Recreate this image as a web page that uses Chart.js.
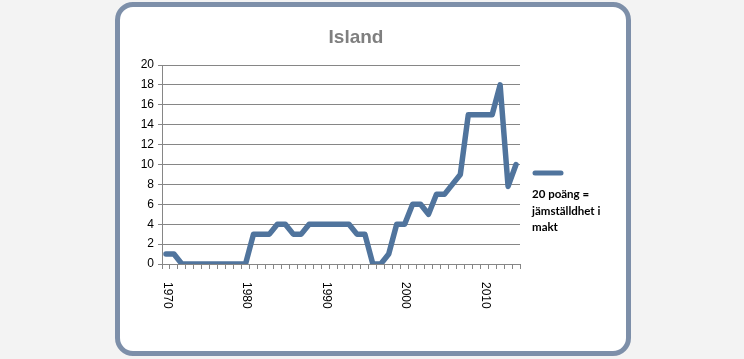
<!DOCTYPE html>
<html><head><meta charset="utf-8">
<script src="https://cdn.jsdelivr.net/npm/chart.js@4.4.1/dist/chart.umd.min.js"></script>
<style>
html,body{margin:0;padding:0;background:#f3f3f3;width:744px;height:359px;overflow:hidden}
#frame{position:absolute;left:115px;top:2px;width:506px;height:344px;border:5px solid #7d8fa9;border-radius:18px;background:#fff}
#wrap{position:absolute;left:0;top:0;width:744px;height:359px}
</style></head><body>
<div id="frame"></div>
<div id="wrap"><canvas id="c" width="744" height="359"></canvas></div>
<script>
const chartTitle = 'Island';
const years = ['1970','1971','1972','1973','1974','1975','1976','1977','1978','1979',
               '1980','1981','1982','1983','1984','1985','1986','1987','1988','1989',
               '1990','1991','1992','1993','1994','1995','1996','1997','1998','1999',
               '2000','2001','2002','2003','2004','2005','2006','2007','2008','2009',
               '2010','2011','2012','2013','2014'];
const values = [1,1,0,0,0,0,0,0,0,0,
                0,3,3,3,4,4,3,3,4,4,
                4,4,4,4,3,3,0,0,1,4,
                4,6,6,5,7,7,8,9,15,15,
                15,15,18,7.8,10];
const shownYearLabels = ['1970','1980','1990','2000','2010'];
const yMin = 0, yMax = 20, yStep = 2;
const noteLines = ['20 poäng =', 'jämställdhet i', 'makt'];

const lineColor = '#50749d';
const gridColor = '#868686';

const deco = {
  id: 'deco',
  afterDraw(chart) {
    const ctx = chart.ctx;
    const xs = chart.scales.x;
    const area = chart.chartArea;
    ctx.save();
    // title
    ctx.font = 'bold 19px "Liberation Sans", Arial, sans-serif';
    ctx.fillStyle = '#7f7f7f';
    ctx.textAlign = 'center';
    ctx.textBaseline = 'alphabetic';
    ctx.fillText(chartTitle, 356, 43);
    // x labels rotated clockwise
    ctx.font = '12px "Liberation Sans", Arial, sans-serif';
    ctx.fillStyle = '#000';
    ctx.textAlign = 'left';
    ctx.textBaseline = 'middle';
    shownYearLabels.forEach(y => {
      const i = years.indexOf(y);
      const px = xs.getPixelForValue(i);
      ctx.save();
      ctx.translate(px + 1, area.bottom + 18);
      ctx.rotate(Math.PI / 2);
      ctx.fillText(y, 0, 0);
      ctx.restore();
    });
    // legend sample
    ctx.strokeStyle = lineColor;
    ctx.lineWidth = 5;
    ctx.lineCap = 'round';
    ctx.beginPath();
    ctx.moveTo(535, 173);
    ctx.lineTo(561, 173);
    ctx.stroke();
    // note
    ctx.font = 'bold 11.5px Lato, "Open Sans", sans-serif';
    ctx.fillStyle = '#000';
    ctx.textAlign = 'left';
    ctx.textBaseline = 'alphabetic';
    noteLines.forEach((t, k) => ctx.fillText(t, 532, 198 + k * 16.5));
    ctx.restore();
  }
};

new Chart(document.getElementById('c'), {
  type: 'line',
  data: {
    labels: years,
    datasets: [{
      label: '',
      data: values,
      borderColor: lineColor,
      borderWidth: 5.5,
      pointRadius: 0,
      tension: 0,
      borderJoinStyle: 'round',
      borderCapStyle: 'round',
      fill: false
    }]
  },
  options: {
    responsive: false,
    animation: false,
    layout: { padding: { left: 126, right: 224, top: 65, bottom: 0 } },
    plugins: { legend: { display: false }, title: { display: false }, tooltip: { enabled: false } },
    scales: {
      x: {
        type: 'category',
        offset: true,
        grid: { offset: true, drawOnChartArea: false, drawTicks: true, tickLength: 5, color: gridColor },
        border: { color: gridColor, width: 1 },
        ticks: { autoSkip: false, maxRotation: 0, callback: () => '' },
        afterFit: s => { s.height = 95; }
      },
      y: {
        min: yMin, max: yMax,
        ticks: { stepSize: yStep, color: '#000', padding: 4, font: { family: '"Liberation Sans", Arial, sans-serif', size: 12 } },
        grid: { color: gridColor, tickLength: 4 },
        border: { color: gridColor, width: 1 },
        afterFit: s => { s.width = 36; }
      }
    }
  },
  plugins: [deco]
});
</script>
</body></html>
